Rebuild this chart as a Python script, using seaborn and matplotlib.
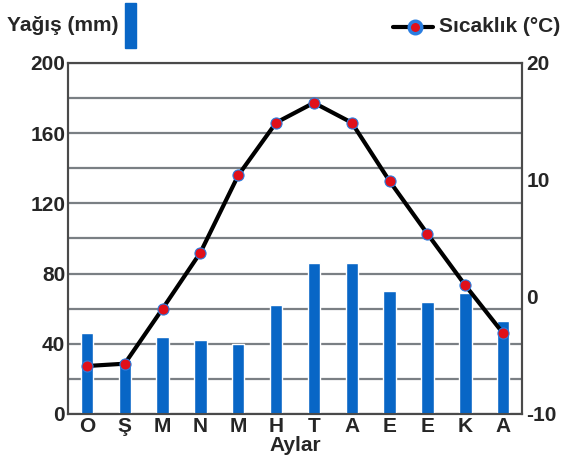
import numpy as np
import matplotlib
matplotlib.use("Agg")
import matplotlib.pyplot as plt
import seaborn as sns
from matplotlib.patches import Rectangle
from matplotlib.lines import Line2D

months = ["O", "Ş", "M", "N", "M", "H", "T", "A", "E", "E", "K", "A"]
rain = [46, 31, 44, 42, 40, 62, 86, 86, 70, 64, 69, 53]
temp = [-5.9, -5.7, -1.0, 3.8, 10.4, 14.9, 16.6, 14.9, 9.9, 5.4, 1.0, -3.1]
rain_ticks = [0, 40, 80, 120, 160, 200]
temp_ticks = [-10, 0, 10, 20]

sns.set_style("white")
plt.rcParams['font.family'] = ['Liberation Sans', 'DejaVu Sans']

fig = plt.figure(figsize=(5.61, 4.68), dpi=100)
ax = fig.add_axes([0.1212, 0.1154, 0.8093, 0.75])

blue = "#0866c6"
grid_c = "#7a7f84"
spine_c = "#4a4a4a"
fs = 15

x = np.arange(len(months))
sns.barplot(x=x, y=rain, color=blue, width=0.33, saturation=1, ax=ax, zorder=3)
ax.set_ylim(0, 200)
ax.set_xlim(-0.5, len(months) - 0.5)
ax.set_yticks(rain_ticks)
ax.set_yticks(np.arange(0, 201, 20), minor=True)
ax.yaxis.grid(True, which="both", color=grid_c, lw=1.6, zorder=0)
ax.set_axisbelow(True)
ax.set_xticks(x)
ax.set_xticklabels(months, fontsize=fs, fontweight="bold")
ax.set_yticklabels(rain_ticks, fontsize=fs, fontweight="bold")
ax.tick_params(axis="y", length=0, pad=2, which="both")
ax.tick_params(axis="x", length=0, pad=2)
ax.set_xlabel("Aylar", fontsize=fs, fontweight="bold", labelpad=0)
ax.set_ylabel("")
for s in ax.spines.values():
    s.set_color(spine_c)
    s.set_linewidth(1.5)

ax2 = ax.twinx()
sns.lineplot(x=x, y=temp, ax=ax2, color="black", lw=3, marker="o",
             markersize=8, markerfacecolor="#e0101a", markeredgecolor="#2a7de0",
             markeredgewidth=0.8, zorder=5)
ax2.set_ylim(-10, 20)
ax2.set_yticks(temp_ticks)
ax2.set_yticklabels(temp_ticks, fontsize=fs, fontweight="bold")
ax2.tick_params(axis="y", length=0, pad=3)
ax2.set_ylabel("")
for s in ax2.spines.values():
    s.set_color(spine_c)
    s.set_linewidth(1.5)

# legend-like header
fig.text(0.012, 0.945, "Yağış (mm)", fontsize=fs, fontweight="bold", va="center", ha="left")
fig.patches.append(Rectangle((0.223, 0.897), 0.020, 0.096, transform=fig.transFigure,
                             color=blue, figure=fig))
fig.lines.append(Line2D([0.700, 0.772], [0.943, 0.943], transform=fig.transFigure,
                        color="black", lw=3, figure=fig))
fig.lines.append(Line2D([0.740], [0.943], transform=fig.transFigure, color="black",
                        marker="o", markersize=9, markerfacecolor="#e0101a",
                        markeredgecolor="#2a7de0", markeredgewidth=2.5, figure=fig))
fig.text(0.782, 0.943, "Sıcaklık (°C)", fontsize=fs, fontweight="bold", va="center", ha="left")

fig.savefig("out.png", dpi=100)
